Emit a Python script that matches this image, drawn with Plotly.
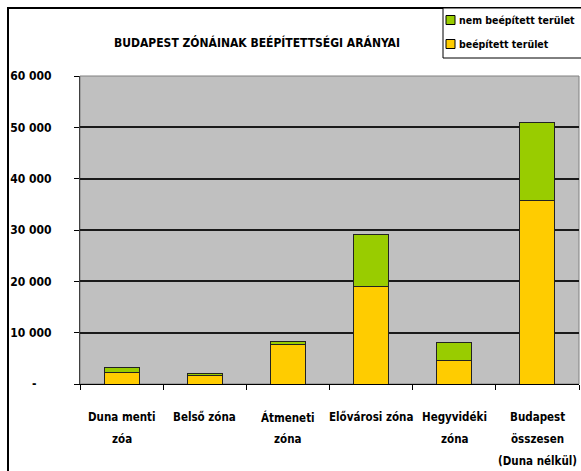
import plotly.graph_objects as go

categories = ["Duna menti<br>zóa", "Belső zóna", "Átmeneti<br>zóna", "Elővárosi zóna",
              "Hegyvidéki<br>zóna", "Budapest<br>összesen<br>(Duna nélkül)"]
built = [2300, 1750, 7750, 18950, 4550, 35800]
unbuilt = [950, 350, 600, 10200, 3500, 15100]
series_names = ["beépített terület", "nem beépített terület"]
series_colors = ["#FFCC00", "#99CC00"]
tick_vals = [0, 10000, 20000, 30000, 40000, 50000, 60000]
tick_text = ["-\u00a0\u00a0\u00a0\u00a0", "10 000", "20 000", "30 000", "40 000", "50 000", "60 000"]

FONT = "DejaVu Sans Condensed, DejaVu Sans, sans-serif"
W, H = 581, 471
L, R, T, B = 80, 2, 76, 87
pw, ph = W - L - R, H - T - B

x_idx = list(range(len(categories)))

fig = go.Figure()
for vals, name, col in zip([built, unbuilt], series_names, series_colors):
    fig.add_trace(go.Bar(x=x_idx, y=vals, name=name,
                         marker=dict(color=col, line=dict(color="#222222", width=1)),
                         width=0.42, showlegend=False))

def px_x(px):
    return (px - L) / pw

def px_y(py):
    return (H - B - py) / ph

annotations = []
for i, cat in enumerate(categories):
    for j, line in enumerate(cat.split("<br>")):
        annotations.append(dict(x=i, xref="x", y=px_y(417 + j * 22), yref="paper",
                                text=line, showarrow=False, xanchor="center", yanchor="middle",
                                font=dict(family=FONT, size=11.5, color="black", weight="bold")))
annotations.append(dict(x=px_x(257), xref="paper", y=px_y(43), yref="paper",
                        text="BUDAPEST ZÓNÁINAK BEÉPÍTETTSÉGI ARÁNYAI", showarrow=False,
                        xanchor="center", yanchor="middle",
                        font=dict(family=FONT, size=12, color="black", weight="bold")))

shapes = [dict(type="rect", xref="paper", yref="paper",
               x0=px_x(8), x1=px_x(595), y0=px_y(485), y1=px_y(8),
               line=dict(color="black", width=2), fillcolor="rgba(0,0,0,0)", layer="above"),
          dict(type="rect", xref="paper", yref="paper", x0=0, x1=1, y0=0, y1=1,
               line=dict(color="#808080", width=1), fillcolor="rgba(0,0,0,0)", layer="below"),
          # legend box
          dict(type="rect", xref="paper", yref="paper",
               x0=px_x(443), x1=px_x(600), y0=px_y(58), y1=px_y(8),
               line=dict(color="black", width=1), fillcolor="white", layer="above")]

# legend entries (top: unbuilt, bottom: built)
legend_rows = [(series_names[1], series_colors[1], 20), (series_names[0], series_colors[0], 44)]
for name, col, yy in legend_rows:
    shapes.append(dict(type="rect", xref="paper", yref="paper",
                       x0=px_x(446), x1=px_x(455), y0=px_y(yy + 4.5), y1=px_y(yy - 4.5),
                       line=dict(color="black", width=1), fillcolor=col, layer="above"))
    annotations.append(dict(x=px_x(457), xref="paper", y=px_y(yy), yref="paper", text=name,
                            showarrow=False, xanchor="left", yanchor="middle",
                            font=dict(family=FONT, size=10.5, color="black", weight="bold")))

fig.update_layout(
    width=W, height=H,
    margin=dict(l=L, r=R, t=T, b=B),
    paper_bgcolor="white", plot_bgcolor="#C0C0C0",
    barmode="stack", bargap=0.58,
    font=dict(family=FONT, size=12, color="black"),
    showlegend=False,
    annotations=annotations,
    shapes=shapes,
)
fig.update_xaxes(range=[-0.5, len(categories) - 0.5], tickvals=[i + 0.5 for i in range(-1, len(categories))],
                 ticktext=[""] * (len(categories) + 1), ticks="outside", ticklen=5, tickcolor="black",
                 showline=True, linecolor="black", linewidth=1, showgrid=False, zeroline=False)
fig.update_yaxes(range=[0, 60000], tickvals=tick_vals, ticktext=tick_text, ticks="outside",
                 ticklen=5, tickcolor="black", showline=True, linecolor="#404040", linewidth=1,
                 showgrid=True, gridcolor="#1a1a1a", gridwidth=1.5, zeroline=False,
                 ticklabelstandoff=20,
                 tickfont=dict(family=FONT, size=12, color="black", weight="bold"))

fig.write_html("out.html", config={"displayModeBar": False},
               post_script="document.body.style.margin='0';")
